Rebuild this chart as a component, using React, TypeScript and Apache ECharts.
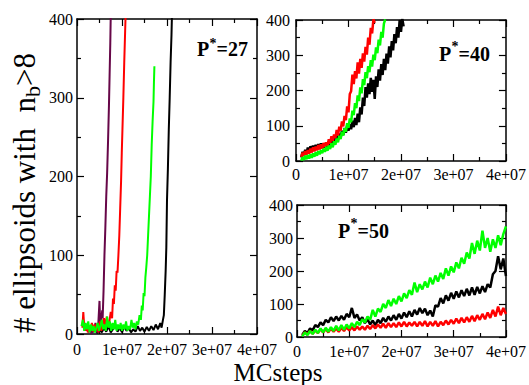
import React, { useEffect, useRef } from "react";
import * as echarts from "echarts";

// ---------- tick labels ----------
const X_TICK_LABELS = ["0", "1e+07", "2e+07", "3e+07", "4e+07"];
const Y_TICK_LABELS = ["0", "100", "200", "300", "400"];

// ---------- P*=27 : [MCsteps (x 1e6), count] ----------
const P27_MAROON: number[][] = [
  [2.0, 4], [2.3, 12], [2.6, 2], [2.9, 8], [3.2, 0], [3.5, 10], [3.8, 3], [4.1, 14], [4.4, 2], [4.7, 9],
  [5.0, 42], [5.2, 5], [5.4, 18], [5.6, 30], [5.7, 20], [5.9, 55], [6.1, 100], [6.3, 135], [6.5, 175],
  [6.7, 205], [6.9, 245], [7.1, 290], [7.25, 330], [7.4, 370], [7.5, 405],
];
const P27_BLACK: number[][] = [
  [2.5, 4], [3.0, 10], [3.5, 2], [4.0, 8], [4.5, 1], [5.0, 6], [5.5, 2], [6.0, 8], [6.5, 3], [7.0, 10],
  [7.5, 2], [8.0, 6], [8.5, 12], [9.0, 3], [9.5, 8], [10.0, 2], [10.5, 10], [11.0, 4], [11.5, 8], [12.0, 2],
  [12.5, 6], [13.0, 3], [13.5, 10], [14.0, 4], [14.5, 8], [15.0, 3], [15.5, 9], [16.0, 4], [16.5, 10],
  [17.0, 5], [17.5, 12], [18.0, 6], [18.5, 14], [18.8, 8], [19.1, 18], [19.3, 24], [19.5, 50], [19.7, 80],
  [19.85, 110], [20.0, 170], [20.2, 210], [20.4, 260], [20.6, 300], [20.8, 345], [21.0, 380], [21.1, 405],
];
const P27_RED: number[][] = [
  [1.2, 8], [1.4, 28], [1.6, 10], [1.8, 4], [2.1, 12], [2.4, 2], [2.7, 10], [3.0, 4], [3.3, 14], [3.6, 3],
  [3.9, 12], [4.2, 5], [4.5, 10], [4.8, 2], [5.1, 16], [5.4, 4], [5.7, 12], [6.0, 20], [6.3, 8], [6.6, 22],
  [6.9, 10], [7.2, 16], [7.5, 28], [7.8, 20], [8.0, 45], [8.2, 38], [8.4, 62], [8.6, 55], [8.8, 80],
  [9.0, 78], [9.2, 100], [9.4, 125], [9.6, 160], [9.8, 195], [9.95, 230], [10.1, 260], [10.3, 300],
  [10.5, 345], [10.7, 385], [10.8, 405],
];
const P27_GREEN: number[][] = [
  [1.0, 10], [1.3, 18], [1.6, 4], [1.9, 14], [2.2, 6], [2.5, 16], [2.8, 2], [3.1, 12], [3.4, 4], [3.7, 10],
  [4.0, 2], [4.3, 8], [4.6, 14], [4.9, 4], [5.2, 10], [5.5, 18], [5.8, 6], [6.1, 12], [6.4, 4], [6.7, 22],
  [7.0, 8], [7.3, 16], [7.6, 4], [7.9, 14], [8.2, 6], [8.5, 18], [8.8, 4], [9.1, 12], [9.4, 6], [9.7, 14],
  [10.0, 4], [10.3, 12], [10.6, 6], [10.9, 16], [11.2, 4], [11.5, 10], [11.8, 6], [12.1, 18], [12.4, 8],
  [12.7, 14], [13.0, 6], [13.3, 16], [13.6, 12], [13.9, 24], [14.2, 18], [14.4, 36], [14.6, 30], [14.8, 52],
  [15.0, 48], [15.2, 72], [15.4, 85], [15.6, 100], [15.8, 125], [16.0, 150], [16.2, 175], [16.4, 200],
  [16.6, 240], [16.8, 270], [17.0, 295], [17.1, 320], [17.2, 340],
];

// ---------- P*=40 : counts sampled every 0.25e6 MCsteps from 1e6 ----------
const P40_X_START = 1.0;
const P40_X_STEP = 0.25;
const P40_RED = [
  12, 24, 14, 28, 18, 31, 21, 35, 24, 39, 27, 41, 30, 45, 33, 47, 35, 51, 40, 53, 43, 62, 49, 70, 57, 75, 65,
  88, 72, 97, 86, 112, 98, 128, 116, 155, 138, 190, 198, 245, 218, 255, 234, 280, 248, 290, 264, 305, 282,
  324, 302, 350, 330, 378, 362, 402, 392,
];
const P40_GREEN = [
  1, 11, 3, 15, 5, 17, 7, 19, 9, 22, 12, 25, 15, 28, 19, 31, 22, 35, 26, 40, 29, 44, 34, 50, 39, 56, 46, 64,
  53, 72, 62, 83, 72, 93, 83, 107, 94, 121, 110, 143, 130, 164, 150, 186, 170, 209, 192, 232, 215, 252, 235,
  269, 252, 286, 268, 302, 286, 322, 306, 344, 328, 366, 350, 390, 402,
];
const P40_BLACK = [
  10, 26, 16, 32, 20, 38, 24, 42, 28, 44, 30, 46, 32, 48, 34, 50, 36, 50, 38, 52, 40, 56, 44, 60, 48, 66, 54,
  72, 60, 78, 66, 86, 74, 94, 80, 100, 86, 104, 90, 114, 96, 122, 102, 134, 110, 152, 132, 180, 156, 210, 180,
  220, 190, 236, 196, 230, 176, 240, 210, 260, 228, 275, 244, 290, 258, 305, 276, 325, 294, 340, 314, 360,
  334, 380, 350, 400, 366, 404, 382,
];

// ---------- P*=50 : counts sampled every 0.5e6 MCsteps from 1e6 ----------
const P50_X_START = 1.0;
const P50_X_STEP = 0.5;
const P50_GREEN = [
  2, 14, 6, 18, 9, 22, 12, 26, 14, 28, 16, 30, 18, 34, 20, 36, 22, 38, 26, 42, 30, 46, 36, 54, 44, 62, 52, 82,
  62, 86, 76, 100, 88, 112, 94, 116, 100, 124, 108, 132, 118, 142, 128, 165, 136, 160, 144, 168, 150, 180,
  160, 186, 168, 194, 176, 208, 186, 214, 196, 226, 208, 240, 222, 256, 238, 285, 252, 292, 262, 322, 270,
  300, 258, 296, 270, 308, 278, 312, 335,
];
const P50_BLACK = [
  6, 18, 12, 26, 20, 36, 30, 44, 36, 52, 44, 60, 48, 62, 50, 64, 52, 70, 60, 88, 58, 68, 50, 60, 42, 54, 38,
  50, 36, 52, 42, 58, 46, 62, 50, 66, 52, 70, 56, 74, 60, 78, 62, 82, 68, 88, 72, 86, 66, 80, 62, 96, 92, 118,
  102, 126, 110, 134, 116, 138, 120, 142, 124, 146, 126, 150, 128, 152, 132, 154, 136, 160, 150, 190, 200,
  245, 205, 238, 185,
];
const P50_RED = [
  4, 14, 8, 18, 10, 20, 12, 24, 14, 24, 14, 26, 16, 26, 16, 28, 18, 30, 20, 30, 20, 32, 22, 32, 22, 34, 24,
  36, 26, 38, 28, 40, 28, 42, 30, 42, 30, 44, 32, 46, 32, 44, 34, 46, 32, 46, 34, 48, 32, 46, 34, 48, 32, 46,
  36, 50, 38, 52, 40, 56, 42, 58, 44, 60, 46, 64, 48, 66, 52, 70, 54, 74, 58, 82, 62, 92, 66, 88, 70,
];

const BLACK = "#000000";
const RED = "#ff0000";
const GREEN = "#00ff00";
const MAROON = "#670748";
const FONT = "'Liberation Serif', 'DejaVu Serif', 'Times New Roman', serif";

const pairs = (arr: number[][]) => arr.map(([x, y]) => [x * 1e6, y]);
const stepped = (ys: number[], start: number, step: number) =>
  ys.map((y, i) => [(start + i * step) * 1e6, y]);

export default function App() {
  const ref = useRef<HTMLDivElement>(null);

  useEffect(() => {
    if (!ref.current) return;
    const chart = echarts.init(ref.current, undefined, { renderer: "svg" });

    const grids = [
      { left: 77, top: 19, width: 180, height: 315 },
      { left: 296, top: 20, width: 211, height: 141 },
      { left: 297, top: 205, width: 209, height: 132 },
    ];
    const labelMarginsX = [7, 5, 6];
    const labelMarginsY = [4, 6, 4];

    const lineStyle = { color: "#000", width: 1.5 };
    const tickStyle = { color: "#000", width: 1.2 };

    const xAxes: any[] = [];
    const yAxes: any[] = [];
    grids.forEach((_, g) => {
      const baseX = {
        type: "value",
        gridIndex: g,
        min: 0,
        max: 4e7,
        interval: 1e7,
        axisLine: { show: true, onZero: false, lineStyle },
        axisTick: { show: true, inside: true, length: 7, lineStyle: tickStyle },
        minorTick: { show: true, splitNumber: 2, length: 4, lineStyle: tickStyle },
        splitLine: { show: false },
        minorSplitLine: { show: false },
      };
      xAxes.push({
        ...baseX,
        position: "bottom",
        axisLabel: {
          show: true,
          margin: labelMarginsX[g],
          color: "#000",
          fontFamily: FONT,
          fontSize: 16,
          formatter: (v: number) => X_TICK_LABELS[Math.round(v / 1e7)],
        },
      });
      xAxes.push({ ...baseX, position: "top", axisLabel: { show: false } });
      const baseY = {
        type: "value",
        gridIndex: g,
        min: 0,
        max: 400,
        interval: 100,
        axisLine: { show: true, onZero: false, lineStyle },
        axisTick: { show: true, inside: true, length: 7, lineStyle: tickStyle },
        minorTick: { show: true, splitNumber: 2, length: 4, lineStyle: tickStyle },
        splitLine: { show: false },
        minorSplitLine: { show: false },
      };
      yAxes.push({
        ...baseY,
        position: "left",
        axisLabel: {
          show: true,
          margin: labelMarginsY[g],
          color: "#000",
          fontFamily: FONT,
          fontSize: 16,
          formatter: (v: number) => Y_TICK_LABELS[Math.round(v / 100)],
        },
      });
      yAxes.push({ ...baseY, position: "right", axisLabel: { show: false } });
    });

    const mk = (g: number, data: number[][], color: string, width = 2.5) => ({
      type: "line",
      xAxisIndex: g * 2,
      yAxisIndex: g * 2,
      data,
      showSymbol: false,
      symbol: "none",
      clip: true,
      lineStyle: { color, width },
      z: 2,
    });

    const series = [
      mk(0, pairs(P27_BLACK), BLACK, 2),
      mk(0, pairs(P27_MAROON), MAROON, 2),
      mk(0, pairs(P27_RED), RED, 2),
      mk(0, pairs(P27_GREEN), GREEN, 2),
      mk(1, stepped(P40_BLACK, P40_X_START, P40_X_STEP), BLACK),
      mk(1, stepped(P40_RED, P40_X_START, P40_X_STEP), RED),
      mk(1, stepped(P40_GREEN, P40_X_START, P40_X_STEP), GREEN),
      mk(2, stepped(P50_BLACK, P50_X_START, P50_X_STEP), BLACK),
      mk(2, stepped(P50_RED, P50_X_START, P50_X_STEP), RED),
      mk(2, stepped(P50_GREEN, P50_X_START, P50_X_STEP), GREEN),
    ];

    // measure y-label pieces
    const ctx = document.createElement("canvas").getContext("2d")!;
    const yMain = "# ellipsoids with  n";
    const ySub = "b";
    const yEnd = ">8";
    const yFont = 31;
    const ySubFont = 22;
    ctx.font = `${yFont}px ${FONT}`;
    const wMain = ctx.measureText(yMain).width;
    ctx.font = `${ySubFont}px ${FONT}`;
    const wSub = ctx.measureText(ySub).width;

    const txt = (text: string, x: number, y: number, size: number, weight = "normal", align = "left") => ({
      type: "text",
      x,
      y,
      style: {
        text,
        fill: "#000",
        fontSize: size,
        fontFamily: FONT,
        fontWeight: weight,
        align,
        textAlign: align,
        verticalAlign: "middle",
        textVerticalAlign: "middle",
      },
    });

    const pLabel = (x0: number, yMid: number, yStar: number, num: string) => [
      txt("P", x0, yMid, 20, "bold"),
      txt("*", x0 + 12.5, yStar, 14, "bold"),
      txt("=" + num, x0 + 19.5, yMid, 20, "bold"),
    ];

    const graphic: any[] = [
      txt("MCsteps", 278, 372, 25, "normal", "center"),
      {
        type: "group",
        x: 24,
        y: 333,
        rotation: Math.PI / 2,
        children: [
          txt(yMain, 0, 0, yFont),
          txt(ySub, wMain, 8, ySubFont),
          txt(yEnd, wMain + wSub, 0, yFont),
        ],
      },
      ...pLabel(197, 48.5, 43, "27"),
      ...pLabel(439, 54, 46, "40"),
      ...pLabel(338, 231, 223, "50"),
    ];

    chart.setOption({
      animation: false,
      backgroundColor: "#fff",
      textStyle: { fontFamily: FONT },
      grid: grids.map((g) => ({ ...g, containLabel: false })),
      xAxis: xAxes,
      yAxis: yAxes,
      series,
      graphic,
    });

    return () => chart.dispose();
  }, []);

  return (
    <div
      ref={ref}
      style={{ position: "fixed", left: 0, top: 0, width: 529, height: 385, background: "#fff" }}
    />
  );
}
